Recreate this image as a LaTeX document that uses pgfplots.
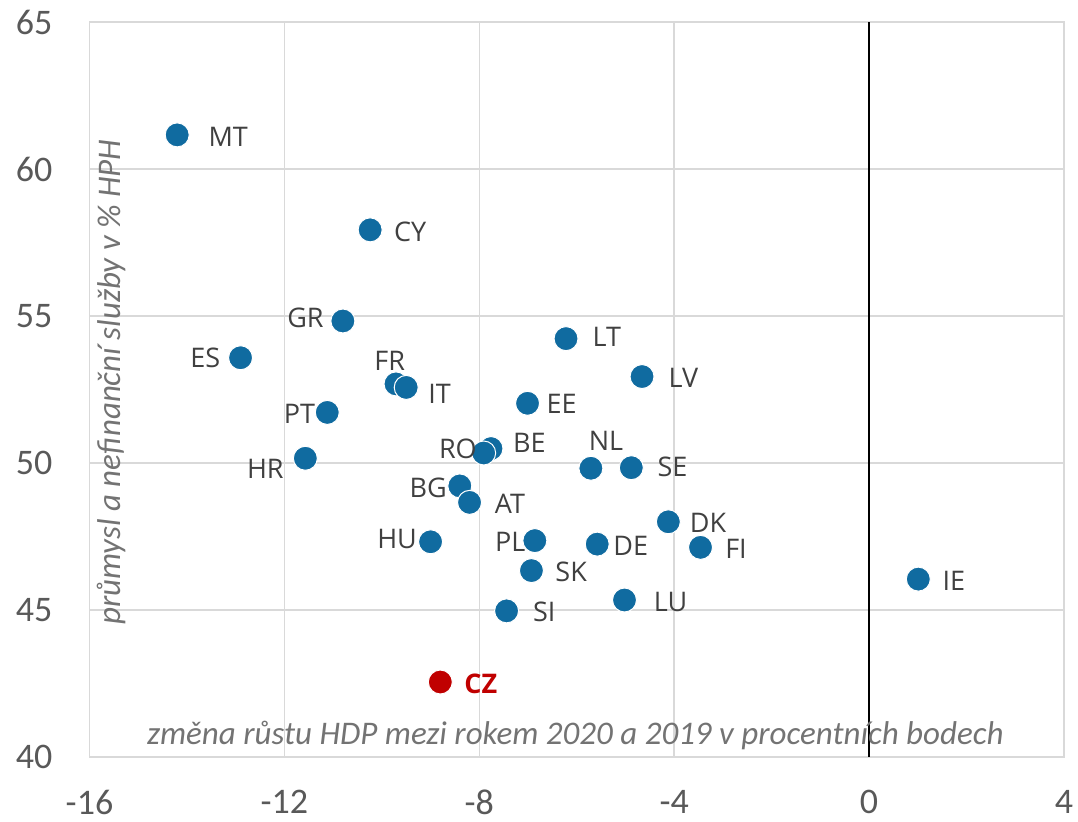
\documentclass[border=0pt]{standalone}
\usepackage{fontspec}
\setmainfont{Carlito}
\newfontfamily\labelfont{Open Sans}
\usepackage{pgfplots}
\usepackage{pgfplotstable}
\pgfplotsset{compat=1.18}
\definecolor{ptblue}{RGB}{16,107,160}
\definecolor{ptred}{RGB}{192,0,0}
\definecolor{gridgrey}{RGB}{217,217,217}
\definecolor{ticktext}{RGB}{89,89,89}
\definecolor{titletext}{RGB}{115,115,115}
\definecolor{labeltext}{RGB}{64,64,64}

\pgfplotstableread{
x y dx dy lab
-14.20 61.16 25.5 -1.0 MT
-10.24 57.93 20.0 -0.9 CY
-10.80 54.83 -18.7 1.75 GR
-12.90 53.58 -17.65 -0.3 ES
-9.71 52.69 -3.15 11.4 FR
-9.50 52.57 16.65 -3.2 IT
-11.12 51.72 -13.9 -0.7 PT
-11.57 50.16 -20.0 -5.45 HR
-7.76 50.49 19.15 2.85 BE
-7.91 50.34 -12.9 2.0 RO
-8.40 49.22 -15.75 -0.75 BG
-8.20 48.66 20.2 -0.75 AT
-9.00 47.32 -16.75 1.5 HU
-6.22 54.23 20.35 0.7 LT
-4.66 52.94 20.65 -0.55 LV
-7.01 52.03 17.0 -0.25 EE
-5.71 49.82 7.55 13.55 NL
-4.88 49.84 20.6 0.5 SE
-4.12 48.00 19.85 -0.65 DK
-6.86 47.36 -12.35 -0.5 PL
-5.58 47.24 16.75 -0.85 DE
-3.46 47.13 17.75 -0.5 FI
-6.93 46.34 19.85 -0.5 SK
-5.02 45.34 23.0 -0.85 LU
-7.44 44.97 18.85 -0.65 SI
1.01 46.05 17.75 -0.85 IE
}\eu

\pgfplotstableread{
x y dx dy lab
-8.80 42.55 20.25 -0.75 CZ
}\cz

\begin{document}
\begin{tikzpicture}
\useasboundingbox (0,0) rectangle (539pt,411pt);
\begin{axis}[
  at={(44.75pt,32.5pt)}, anchor=south west,
  scale only axis, width=487.25pt, height=367.5pt,
  xmin=-16, xmax=4, ymin=40, ymax=65,
  xtick={-16,-12,-8,-4,0,4},
  xticklabels={-16,-12,-8,-4,0,4},
  ytick={40,45,50,55,60,65},
  yticklabels={40,45,50,55,60,65},
  major tick length=0pt,
  grid=major,
  major grid style={draw=gridgrey, line width=0.75pt},
  axis line style={draw=gridgrey, line width=0.75pt},
  tick label style={font=\fontsize{18}{20}\selectfont, text=ticktext},
  xticklabel style={anchor=north, inner sep=0pt, yshift=-16.5pt},
  yticklabel style={anchor=east, inner sep=0pt, xshift=-18.4pt},
  clip=false,
]
\draw[black, line width=0.75pt] (axis cs:0,40) -- (axis cs:0,65);

\node[anchor=base, font=\fontsize{16.5}{18}\selectfont\itshape, text=titletext, inner sep=0pt]
  at (axis cs:-6.03,40.41) {změna růstu HDP mezi rokem 2020 a 2019 v procentních bodech};
\node[anchor=center, rotate=90, font=\fontsize{16.5}{18}\selectfont\itshape, text=titletext, inner sep=0pt]
  at (axis cs:-15.54,52.75) {průmysl a nefinanční služby v \% HPH};

\addplot[only marks, mark=*, mark size=6pt,
  mark options={fill=ptblue, draw=white, line width=0.5pt},
  point meta=explicit symbolic,
  visualization depends on={\thisrow{dx} \as \dx},
  visualization depends on={\thisrow{dy} \as \dy},
  nodes near coords,
  every node near coord/.append style={anchor=center, inner sep=0pt,
    xshift=\dx pt, yshift=\dy pt,
    font=\labelfont\fontsize{13.5}{15}\selectfont, text=labeltext},
] table[x=x, y=y, meta=lab] {\eu};

\addplot[only marks, mark=*, mark size=6pt,
  mark options={fill=ptred, draw=white, line width=0.5pt},
  point meta=explicit symbolic,
  visualization depends on={\thisrow{dx} \as \dx},
  visualization depends on={\thisrow{dy} \as \dy},
  nodes near coords,
  every node near coord/.append style={anchor=center, inner sep=0pt,
    xshift=\dx pt, yshift=\dy pt,
    font=\labelfont\bfseries\fontsize{13.5}{15}\selectfont, text=ptred},
] table[x=x, y=y, meta=lab] {\cz};
\end{axis}
\end{tikzpicture}
\end{document}
